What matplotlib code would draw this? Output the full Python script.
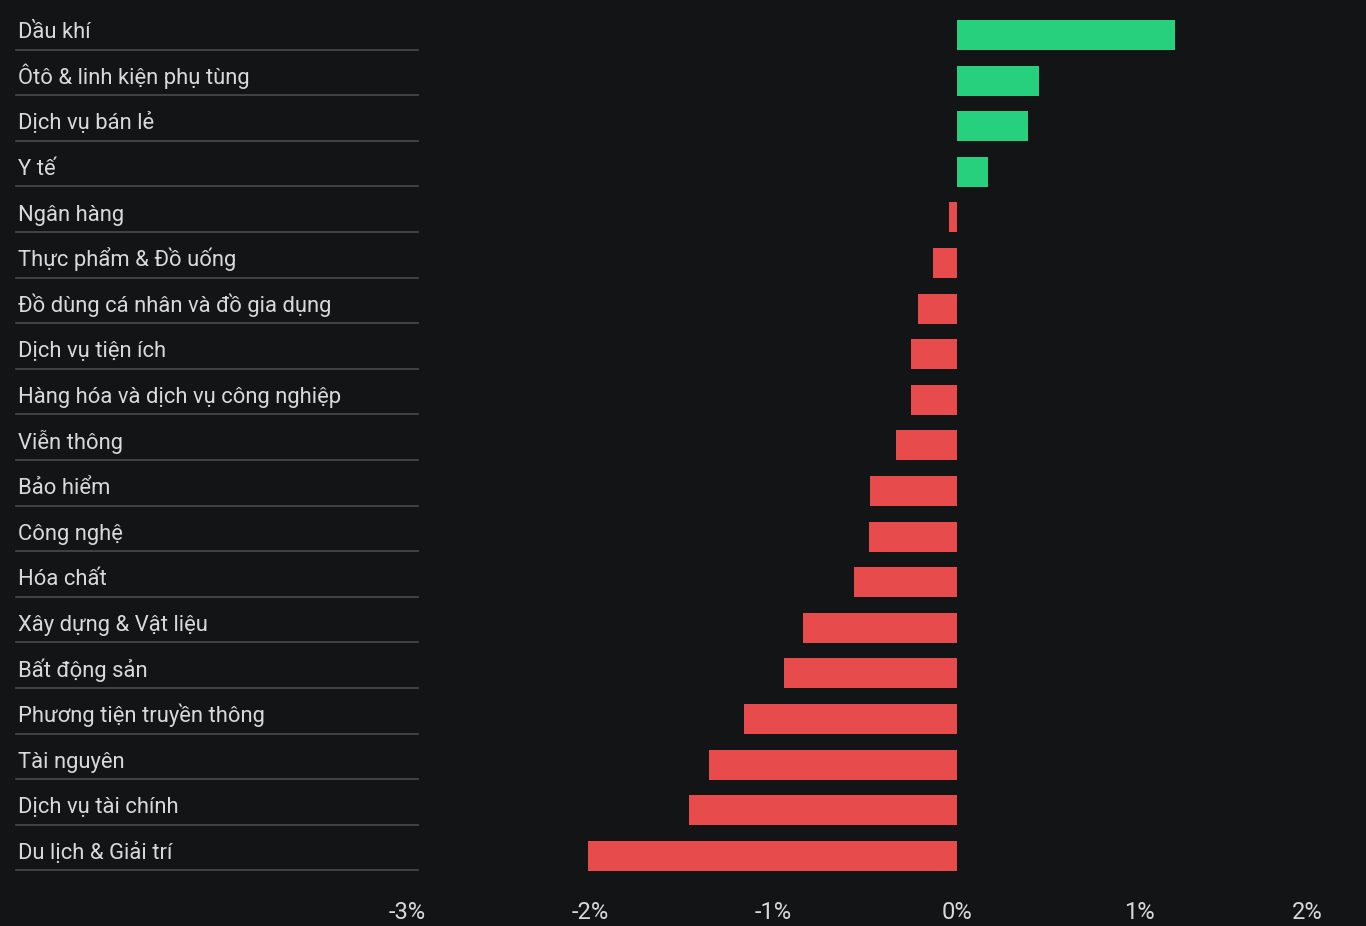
import matplotlib
matplotlib.use("Agg")
import matplotlib.pyplot as plt
import matplotlib.transforms as mtransforms
from matplotlib import font_manager

sectors = [
    "Dầu khí", "Ôtô & linh kiện phụ tùng", "Dịch vụ bán lẻ", "Y tế",
    "Ngân hàng", "Thực phẩm & Đồ uống", "Đồ dùng cá nhân và đồ gia dụng",
    "Dịch vụ tiện ích", "Hàng hóa và dịch vụ công nghiệp", "Viễn thông",
    "Bảo hiểm", "Công nghệ", "Hóa chất", "Xây dựng & Vật liệu",
    "Bất động sản", "Phương tiện truyền thông", "Tài nguyên",
    "Dịch vụ tài chính", "Du lịch & Giải trí",
]
changes = [1.19, 0.45, 0.39, 0.17, -0.04, -0.13, -0.21, -0.25, -0.25, -0.33,
           -0.47, -0.48, -0.56, -0.84, -0.94, -1.16, -1.35, -1.46, -2.01]
tick_values = [-3, -2, -1, 0, 1, 2]
tick_labels = ["-3%", "-2%", "-1%", "0%", "1%", "2%"]

BG = "#131416"
GREEN = "#26d07c"
RED = "#e84b4b"
TEXT = "#d9d9d9"

# narrow font for the axis ticks if there is one
names = {f.name for f in font_manager.fontManager.ttflist}
tick_font = "Liberation Sans Narrow" if "Liberation Sans Narrow" in names else "Roboto"

W, H = 1366, 926
fig = plt.figure(figsize=(W / 100, H / 100), dpi=100, facecolor=BG)
top_px, bot_px = 12.2, 878.6
ax = fig.add_axes([407 / W, 1 - bot_px / H, (1323 - 407) / W, (bot_px - top_px) / H])
ax.set_facecolor(BG)

rows = list(range(len(sectors)))
colors = [GREEN if v >= 0 else RED for v in changes]
ax.barh(rows, changes, height=0.66, color=colors)

ax.set_xlim(-3, 2)
ax.set_ylim(len(sectors) - 0.5, -0.5)
for s in ax.spines.values():
    s.set_visible(False)
ax.set_yticks([])
ax.set_xticks(tick_values)
ax.set_xticklabels(tick_labels, family=tick_font)
ax.tick_params(axis="x", length=0, pad=16, labelsize=17, labelcolor=TEXT)
ax.get_xticklabels()[-1].set_horizontalalignment("right")

trans = mtransforms.blended_transform_factory(fig.transFigure, ax.transData)
for i, name in enumerate(sectors):
    fig.text(18 / W, i + 0.07, name, transform=trans, color=TEXT,
             fontsize=15.8, family="Roboto", va="baseline", ha="left")
    ax.plot([16 / W, 418 / W], [i + 0.32, i + 0.32], transform=trans,
            color="#4a4b4d", lw=1.2, clip_on=False)

fig.savefig("out.png", dpi=100, facecolor=BG)
